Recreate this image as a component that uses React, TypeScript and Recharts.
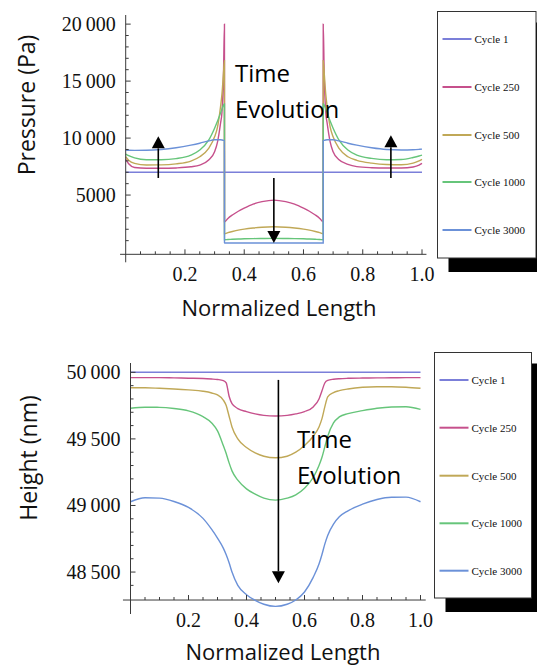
import React from "react";
import { LineChart, Line, XAxis, YAxis, ReferenceLine } from "recharts";

// pressure plot, normalized length positions
const lengthTop = [
  0, 0.01, 0.03, 0.07, 0.12, 0.17, 0.22, 0.25, 0.28, 0.3, 0.31, 0.32, 0.325, 0.33, 0.3333,
  0.3334, 0.345, 0.36, 0.38, 0.4, 0.43, 0.46, 0.5, 0.54, 0.57, 0.6, 0.62, 0.64, 0.655, 0.6666,
  0.6667, 0.67, 0.675, 0.68, 0.69, 0.7, 0.72, 0.75, 0.78, 0.83, 0.88, 0.93, 0.97, 0.99, 1.0,
];
const pCycle1Len = [0, 1];
const pCycle1 = [7000, 7000];
const pCycle250 = [
  8130, 7750, 7420, 7350, 7350, 7380, 7480, 7630, 8070, 8800, 9670, 11290, 12300, 15500, 20000,
  2650, 2950, 3250, 3580, 3850, 4200, 4420, 4560, 4420, 4200, 3850, 3580, 3250, 2950, 2650,
  20000, 15500, 12300, 11290, 9670, 8800, 8100, 7700, 7500, 7400, 7370, 7370, 7460, 7620, 7780,
];
const pCycle500 = [
  8360, 8050, 7780, 7640, 7650, 7740, 7980, 8360, 9090, 10110, 10990, 12740, 13900, 15700, 16800,
  1600, 1700, 1800, 1920, 2010, 2110, 2180, 2220, 2180, 2110, 2010, 1920, 1800, 1700, 1600,
  16800, 15700, 13900, 12740, 10990, 10110, 9090, 8360, 8050, 7800, 7680, 7660, 7800, 8000, 8140,
];
const pCycle1000 = [
  8600, 8450, 8260, 8100, 8100, 8200, 8500, 8950, 9820, 10870, 11500, 12190, 12550, 12900, 13000,
  1080, 1100, 1120, 1140, 1160, 1180, 1190, 1200, 1190, 1180, 1160, 1140, 1120, 1100, 1080,
  13000, 12900, 12550, 12190, 11500, 10870, 9820, 8950, 8500, 8220, 8100, 8120, 8300, 8430, 8510,
];
const pCycle3000 = [
  8950, 8930, 8920, 8930, 9000, 9150, 9380, 9550, 9750, 9850, 9860, 9850, 9830, 9800, 9780,
  800, 800, 800, 800, 800, 800, 800, 800, 800, 800, 800, 800, 800, 800, 800,
  9780, 9800, 9830, 9850, 9860, 9850, 9750, 9550, 9380, 9150, 9000, 8960, 8980, 9010, 9030,
];

// height plot
const lengthBottom = [
  0, 0.05, 0.1, 0.15, 0.2, 0.25, 0.28, 0.3, 0.32, 0.33, 0.34, 0.35, 0.37, 0.4, 0.43, 0.46, 0.5,
  0.54, 0.57, 0.6, 0.63, 0.65, 0.66, 0.67, 0.68, 0.7, 0.72, 0.75, 0.8, 0.85, 0.9, 0.95, 1.0,
];
const hCycle1Len = [0, 1];
const hCycle1 = [50000, 50000];
const hCycle250 = [
  49960, 49960, 49960, 49958, 49956, 49954, 49950, 49946, 49938, 49920, 49820, 49765, 49728, 49705,
  49688, 49677, 49672, 49677, 49688, 49705, 49740, 49800, 49860, 49920, 49940, 49948, 49952, 49955,
  49957, 49958, 49959, 49960, 49960,
];
const hCycle500 = [
  49884, 49884, 49880, 49875, 49868, 49858, 49845, 49830, 49792, 49750, 49670, 49590, 49500, 49435,
  49395, 49370, 49358, 49370, 49400, 49450, 49520, 49590, 49650, 49740, 49815, 49848, 49862, 49875,
  49888, 49892, 49892, 49888, 49880,
];
const hCycle1000 = [
  49730, 49738, 49737, 49728, 49710, 49667, 49620, 49560, 49450, 49390, 49320, 49260, 49190, 49125,
  49085, 49055, 49040, 49055, 49080, 49130, 49210, 49300, 49360, 49440, 49520, 49620, 49665, 49690,
  49712, 49730, 49740, 49742, 49722,
];
const hCycle3000 = [
  49028, 49058, 49055, 49030, 48985, 48903, 48820, 48755, 48680, 48630, 48570, 48500, 48400, 48330,
  48288, 48258, 48242, 48258, 48290, 48350, 48460, 48560, 48630, 48710, 48775, 48860, 48915, 48960,
  49010, 49045, 49062, 49063, 49028,
];

const legendNames = ["Cycle 1", "Cycle 250", "Cycle 500", "Cycle 1000", "Cycle 3000"];
const colors = ["#7b7fd9", "#c6508c", "#c0a857", "#66c57a", "#6b91d8"];

const lengthTicks = [
  0.05, 0.1, 0.15, 0.2, 0.25, 0.3, 0.35, 0.4, 0.45, 0.5, 0.55, 0.6, 0.65, 0.7, 0.75, 0.8, 0.85,
  0.9, 0.95, 1.0,
];
const lengthLabels: Record<string, string> = { "0.2": "0.2", "0.4": "0.4", "0.6": "0.6", "0.8": "0.8", "1": "1.0" };
const pressureTicks = [
  1000, 2000, 3000, 4000, 5000, 6000, 7000, 8000, 9000, 10000, 11000, 12000, 13000, 14000, 15000,
  16000, 17000, 18000, 19000, 20000,
];
const pressureLabels: Record<string, string> = {
  "5000": "5000", "10000": "10\u2009000", "15000": "15\u2009000", "20000": "20\u2009000",
};
const heightTicks = [
  48400, 48500, 48600, 48700, 48800, 48900, 49000, 49100, 49200, 49300, 49400, 49500, 49600, 49700,
  49800, 49900, 50000,
];
const heightLabels: Record<string, string> = {
  "48500": "48\u2009500", "49000": "49\u2009000", "49500": "49\u2009500", "50000": "50\u2009000",
};

const AXIS = "#3a3a3a";
const SERIF = "Liberation Serif, Times New Roman, Times, serif";
const SANS = "Open Sans, sans-serif";

const toRows = (xs: number[], ys: number[]) => xs.map((x, i) => ({ x, v: ys[i] }));

const YTick = (props: any) => {
  const { x, y, payload, labels } = props;
  const label = labels[String(payload.value)];
  return (
    <g>
      <line x1={x} y1={y} x2={x + (label ? 5 : 3)} y2={y} stroke={AXIS} strokeWidth={1} />
      {label && (
        <text x={x - 10} y={y + 7} textAnchor="end" style={{ fontFamily: SERIF, fontSize: 20 }} fill="#111">
          {label}
        </text>
      )}
    </g>
  );
};

const XTick = (props: any) => {
  const { x, y, payload, lift } = props;
  const label = lengthLabels[String(payload.value)];
  const ay = y - lift;
  return (
    <g>
      <line x1={x} y1={ay} x2={x} y2={ay - (label ? 5 : 3)} stroke={AXIS} strokeWidth={1} />
      {label && (
        <text x={x} y={ay + 27} textAnchor="middle" style={{ fontFamily: SERIF, fontSize: 20 }} fill="#111">
          {label}
        </text>
      )}
    </g>
  );
};

const Arrow = (props: any) => {
  const { x1, y1, x2, y2 } = props;
  const dir = y2 > y1 ? 1 : -1;
  const head = 12;
  return (
    <g>
      <line x1={x1} y1={y1} x2={x2} y2={y2 - dir * head} stroke="#000" strokeWidth={1.6} />
      <polygon
        points={`${x2},${y2} ${x2 - 6.5},${y2 - dir * head} ${x2 + 6.5},${y2 - dir * head}`}
        fill="#000"
      />
    </g>
  );
};

// top chart geometry
const T_H = 300;
const T_TOP = 15;
const T_PLOT_H = 247.3;
const T_DOMAIN: [number, number] = [-900, 20800];
const T_AXIS_Y = -200;
const T_LIFT = (T_PLOT_H * (T_AXIS_Y - T_DOMAIN[0])) / (T_DOMAIN[1] - T_DOMAIN[0]);

// bottom chart geometry
const B_H = 338;
const B_TOP = 33;
const B_PLOT_H = 251;
const B_DOMAIN: [number, number] = [48185, 50070];
const B_AXIS_Y = 48290;
const B_LIFT = (B_PLOT_H * (B_AXIS_Y - B_DOMAIN[0])) / (B_DOMAIN[1] - B_DOMAIN[0]);

const Legend = ({ x, y, w, h, rows }: { x: number; y: number; w: number; h: number; rows: number[] }) => (
  <g>
    <rect x={x + 11} y={y + 11} width={w} height={h + 3} fill="#000" />
    <rect x={x} y={y} width={w} height={h} fill="#fff" stroke="#333" strokeWidth={1} />
    {rows.map((ry, i) => (
      <g key={legendNames[i]}>
        <line x1={x + 5} y1={ry} x2={x + 34} y2={ry} stroke={colors[i]} strokeWidth={2} />
        <text x={x + 37} y={ry + 4} style={{ fontFamily: SERIF, fontSize: 11 }} fill="#111">
          {legendNames[i]}
        </text>
      </g>
    ))}
  </g>
);

export default function App() {
  const topSeries = [
    toRows(pCycle1Len, pCycle1),
    toRows(lengthTop, pCycle250),
    toRows(lengthTop, pCycle500),
    toRows(lengthTop, pCycle1000),
    toRows(lengthTop, pCycle3000),
  ];
  const bottomSeries = [
    toRows(hCycle1Len, hCycle1),
    toRows(lengthBottom, hCycle250),
    toRows(lengthBottom, hCycle500),
    toRows(lengthBottom, hCycle1000),
    toRows(lengthBottom, hCycle3000),
  ];

  return (
    <div style={{ position: "absolute", left: 0, top: 0, width: 537, height: 668, overflow: "hidden", background: "#fff" }}>
      <div style={{ position: "absolute", left: 0, top: 0 }}>
        <LineChart width={537} height={T_H} margin={{ top: T_TOP, right: 115, bottom: T_H - T_TOP - T_PLOT_H - 30, left: 0 }}>
          <XAxis
            dataKey="x"
            type="number"
            domain={[0, 1]}
            ticks={lengthTicks}
            interval={0}
            height={30}
            axisLine={false}
            tickLine={false}
            tickSize={0}
            tickMargin={0}
            tick={(p: any) => <XTick {...p} lift={T_LIFT} />}
          />
          <YAxis
            type="number"
            domain={T_DOMAIN}
            ticks={pressureTicks}
            interval={0}
            width={125.7}
            axisLine={{ stroke: AXIS }}
            tickLine={false}
            tickSize={0}
            tickMargin={0}
            tick={(p: any) => <YTick {...p} labels={pressureLabels} />}
          />
          <ReferenceLine segment={[{ x: -0.019, y: T_AXIS_Y }, { x: 1.015, y: T_AXIS_Y }]} stroke={AXIS} ifOverflow="visible" />
          {topSeries.map((rows, i) => (
            <Line
              key={legendNames[i]}
              data={rows}
              dataKey="v"
              type="monotone"
              stroke={colors[i]}
              strokeWidth={1.4}
              dot={false}
              isAnimationActive={false}
            />
          ))}
          <ReferenceLine segment={[{ x: 0.11, y: 6500 }, { x: 0.11, y: 10150 }]} ifOverflow="visible" shape={(p: any) => <Arrow {...p} />} />
          <ReferenceLine segment={[{ x: 0.895, y: 6500 }, { x: 0.895, y: 10250 }]} ifOverflow="visible" shape={(p: any) => <Arrow {...p} />} />
          <ReferenceLine segment={[{ x: 0.5, y: 6500 }, { x: 0.5, y: 790 }]} ifOverflow="visible" shape={(p: any) => <Arrow {...p} />} />
        </LineChart>
      </div>

      <div style={{ position: "absolute", left: 0, top: 330 }}>
        <LineChart width={537} height={B_H} margin={{ top: B_TOP, right: 116.5, bottom: B_H - B_TOP - B_PLOT_H - 30, left: 0 }}>
          <XAxis
            dataKey="x"
            type="number"
            domain={[0, 1]}
            ticks={lengthTicks}
            interval={0}
            height={30}
            axisLine={false}
            tickLine={false}
            tickSize={0}
            tickMargin={0}
            tick={(p: any) => <XTick {...p} lift={B_LIFT} />}
          />
          <YAxis
            type="number"
            domain={B_DOMAIN}
            ticks={heightTicks}
            interval={0}
            width={130.5}
            axisLine={{ stroke: AXIS }}
            tickLine={false}
            tickSize={0}
            tickMargin={0}
            tick={(p: any) => <YTick {...p} labels={heightLabels} />}
          />
          <ReferenceLine segment={[{ x: -0.026, y: B_AXIS_Y }, { x: 1.018, y: B_AXIS_Y }]} stroke={AXIS} ifOverflow="visible" />
          {bottomSeries.map((rows, i) => (
            <Line
              key={legendNames[i]}
              data={rows}
              dataKey="v"
              type="monotone"
              stroke={colors[i]}
              strokeWidth={1.4}
              dot={false}
              isAnimationActive={false}
            />
          ))}
          <ReferenceLine segment={[{ x: 0.51, y: 49943 }, { x: 0.51, y: 48415 }]} ifOverflow="visible" shape={(p: any) => <Arrow {...p} />} />
        </LineChart>
      </div>

      <svg width={537} height={668} style={{ position: "absolute", left: 0, top: 0, pointerEvents: "none" }}>
        <text transform="translate(35,105) rotate(-90)" textAnchor="middle" style={{ fontFamily: SANS, fontSize: 23 }} fill="#111">
          Pressure (Pa)
        </text>
        <text x={279} y={316} textAnchor="middle" style={{ fontFamily: SANS, fontSize: 22 }} fill="#111">
          Normalized Length
        </text>
        <text x={235} y={82} style={{ fontFamily: SANS, fontSize: 24 }} fill="#000">Time</text>
        <text x={235} y={118} style={{ fontFamily: SANS, fontSize: 24 }} fill="#000">Evolution</text>

        <text transform="translate(37,458) rotate(-90)" textAnchor="middle" style={{ fontFamily: SANS, fontSize: 23 }} fill="#111">
          Height (nm)
        </text>
        <text x={283} y={660} textAnchor="middle" style={{ fontFamily: SANS, fontSize: 22 }} fill="#111">
          Normalized Length
        </text>
        <text x={297} y={448} style={{ fontFamily: SANS, fontSize: 24 }} fill="#000">Time</text>
        <text x={297} y={484} style={{ fontFamily: SANS, fontSize: 24 }} fill="#000">Evolution</text>

        <Legend x={437.5} y={11.5} w={98.5} h={246.5} rows={[39, 87, 135, 182, 230]} />
        <Legend x={434.5} y={352.5} w={97} h={245.5} rows={[380, 427.7, 475.7, 523.3, 570.7]} />
      </svg>
    </div>
  );
}
